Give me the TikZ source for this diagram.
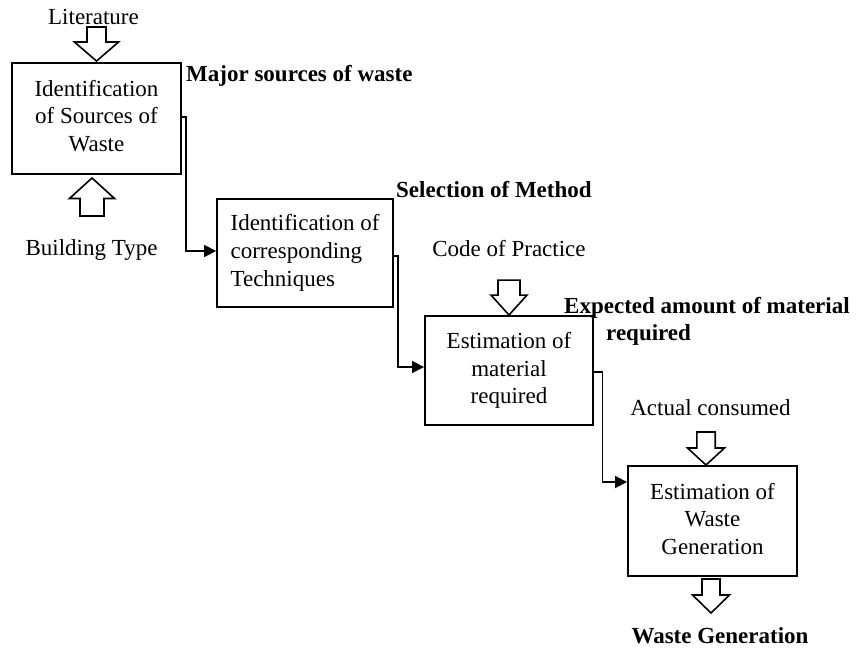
\documentclass[tikz,border=0pt]{standalone}
\usepackage{fontspec}
\setmainfont{Liberation Serif}
\usetikzlibrary{arrows.meta}
\begin{document}
\begin{tikzpicture}[x=1pt,y=-1pt,
  every node/.style={font=\fontsize{23}{27.5}\selectfont, inner sep=0pt},
  box/.style={draw, line width=1.9pt, inner sep=0pt},
  lbl/.style={anchor=base},
  hdr/.style={anchor=base west, font=\fontsize{23}{27.5}\selectfont\bfseries},
  flow/.style={line width=1.8pt, -{Triangle[length=12pt,width=12pt]}},
  blockline/.style={draw, line width=1.6pt, fill=white, line join=miter},
  % hollow block arrow, tip at the origin, pointing down
  % #1 total length, #2 head length, #3 head half width, #4 shaft half width
  pics/blockarrow/.style n args={4}{code={
    \draw[blockline] (0,0) -- (-#3,-#2) -- (-#4,-#2) -- (-#4,-#1)
      -- (#4,-#1) -- (#4,-#2) -- (#3,-#2) -- cycle;
  }}
]
\useasboundingbox (0,0) rectangle (863,650);

% process boxes
\node[box, minimum width=169, minimum height=111] (b1) at (96.5,118.5)
  {\raisebox{4.5pt}{\begin{tabular}{@{}c@{}}Identification\\of Sources of\\Waste\end{tabular}}};
\node[box, minimum width=176, minimum height=108] (b2) at (305,253)
  {\raisebox{4.5pt}{\begin{tabular}{@{}l@{}}Identification of\\corresponding\\Techniques\end{tabular}}};
\node[box, minimum width=168, minimum height=109] (b3) at (509,370.5)
  {\raisebox{4.5pt}{\begin{tabular}{@{}c@{}}Estimation of\\material\\required\end{tabular}}};
\node[box, minimum width=169, minimum height=110] (b4) at (712.5,521)
  {\raisebox{4.5pt}{\begin{tabular}{@{}c@{}}Estimation of\\Waste\\Generation\end{tabular}}};

% inputs and outputs
\node[lbl] (lit) at (93.5,25) {Literature};
\node[lbl] (bt) at (91.5,255) {Building Type};
\node[lbl] (cop) at (509,256) {Code of Practice};
\node[lbl] (ac) at (710.5,415) {Actual consumed};

% stage results
\node[hdr] (h1) at (186,82) {Major sources of waste};
\node[hdr] (h2) at (396,197) {Selection of Method};
\node[hdr] (h3) at (564,313) {Expected amount of material};
\node[hdr] (h3b) at (606,340) {required};
\node[hdr, anchor=base] (wg) at (720,643) {Waste Generation};

% block arrows
\pic at ([yshift=1pt]b1.north) {blockarrow={34}{19}{22}{9.5}};
\pic[rotate=180] at (92,178) {blockarrow={38}{20.5}{22.5}{12}};
\pic at (b3.north) {blockarrow={35}{20}{18}{11}};
\pic at (706,465) {blockarrow={33}{17}{18.5}{9.2}};
\pic at (711,613) {blockarrow={34}{18}{18.5}{9}};

% flow between stages
\draw[flow] ([yshift=1.5pt]b1.east) -- ++(4,0) |- ([yshift=2pt]b2.west);
\draw[flow] ([yshift=-3pt]b2.east) -- ++(4,0) |- ([yshift=3.5pt]b3.west);
\draw[flow] ([yshift=-1.5pt]b3.east) -- ++(8.5,0) |- ([yshift=39pt]b4.west);
\end{tikzpicture}
\end{document}
